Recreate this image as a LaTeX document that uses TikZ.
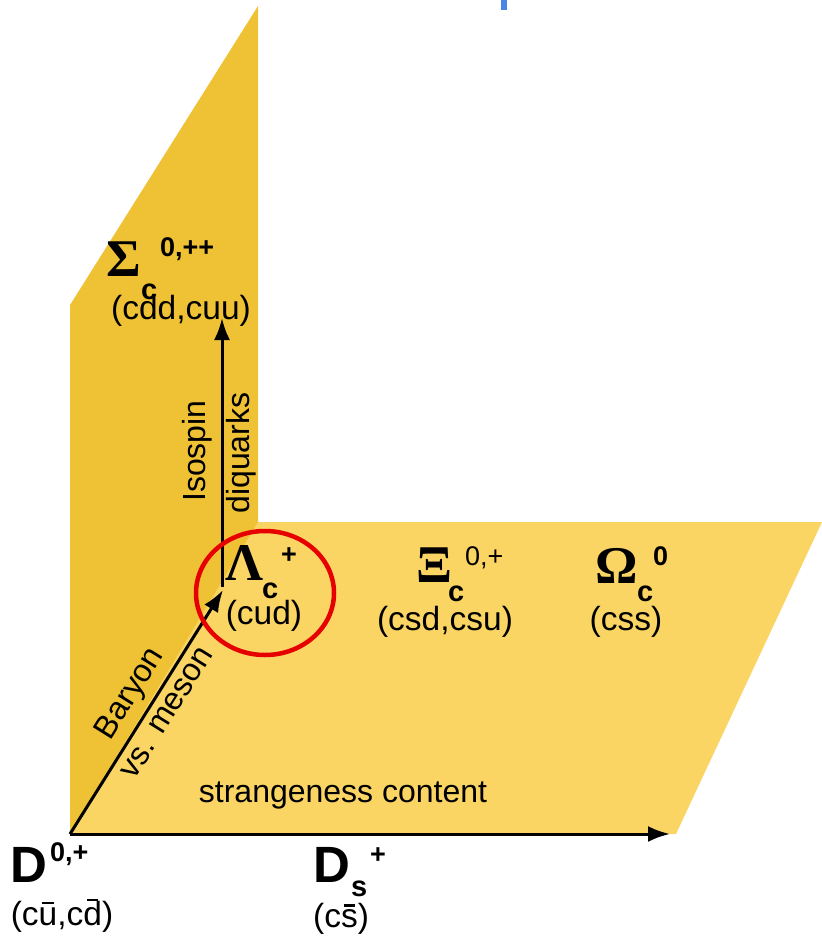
\documentclass[tikz,border=0pt]{standalone}
\usepackage{fontspec}
\setmainfont{Liberation Sans}
\newfontfamily\grkfont{Liberation Serif}
\usetikzlibrary{arrows.meta}
\definecolor{darkplane}{RGB}{239,193,52}
\definecolor{lightplane}{RGB}{250,213,100}
\definecolor{ringred}{RGB}{230,0,0}
\definecolor{barblue}{RGB}{74,134,232}
\newcommand\qbar[2]{\setbox0\hbox{#2}\rlap{\hbox to\wd0{\hss\rule[#1]{0.62\wd0}{0.075em}\hss}}\box0}
\begin{document}
\begin{tikzpicture}[x=1pt,y=-1pt,
  axis/.style={line width=3pt,-{Latex[length=22pt,width=16pt]}},
  greek/.style={font=\grkfont\bfseries\fontsize{53}{53}\selectfont, inner sep=0pt, anchor=base west},
  bigD/.style={font=\bfseries\fontsize{51}{51}\selectfont, inner sep=0pt, anchor=base west},
  subc/.style={font=\bfseries\fontsize{29}{29}\selectfont, inner sep=0pt, anchor=base west},
  supb/.style={font=\bfseries\fontsize{27}{27}\selectfont, inner sep=0pt, anchor=base west},
  supr/.style={font=\fontsize{27}{27}\selectfont, inner sep=0pt, anchor=base west},
  quark/.style={font=\fontsize{33.5}{33.5}\selectfont, inner sep=0pt, anchor=base},
  axlabel/.style={font=\fontsize{32}{32}\selectfont, inner sep=0pt},
]
\useasboundingbox (0,0) rectangle (822,938);
% top blue mark
\fill[barblue] (501,0) rectangle (507,10);
% planes
\fill[darkplane] (70,834) -- (70,305) -- (258,6) -- (258,834) -- cycle;
\fill[lightplane] (70,834) -- (258,522) -- (822,522) -- (676,834) -- cycle;

% Sigma_c
\node[greek] (sig) at (106,276) {Σ};
\node[subc] (sigc) at (141,299) {c};
\node[supb] (sigsup) at (160,256) {0,++};
\node[quark] (sigq) at (181,319) {(cdd,cuu)};

% Lambda_c
\node[greek] (lam) at (225,580) {Λ};
\node[subc] (lamc) at (262,598) {c};
\node[supb] (lamsup) at (281,563) {+};
\node[quark] (lamq) at (264,624) {(cud)};

% Xi_c
\node[greek] (xi) at (416,582) {Ξ};
\node[subc] (xic) at (448,601) {c};
\node[supr] (xisup) at (465,565) {0,+};
\node[quark] (xiq) at (445,630) {(csd,csu)};

% Omega_c
\node[greek] (om) at (595,583) {Ω};
\node[subc] (omc) at (637,601) {c};
\node[supb] (omsup) at (653,565) {0};
\node[quark] (omq) at (626,630) {(css)};

% D mesons
\node[bigD] (d0) at (10,882) {D};
\node[supb] (d0sup) at (50,861) {0,+};
\node[quark] (d0q) at (62,925) {(c\qbar{0.62em}{u},c\qbar{0.71em}{d})};

\node[bigD] (ds) at (313,882) {D};
\node[subc] (dss) at (351,896) {s};
\node[supb] (dssup) at (370,863) {+};
\node[quark] (dsq) at (341,927) {(c\qbar{0.6em}{s})};

% axes
\coordinate (O) at (70,834);
\coordinate (Lt) at (223,590);
\coordinate (Lb) at (222,587);
\coordinate (St) at (222,318);
\coordinate (Se) at (670,834);
\draw[axis] (O) -- (Se);
\draw[axis] (O) -- (Lt);
\draw[axis] (Lb) -- (St);

% axis labels
\node[axlabel, rotate=90] (iso) at (197,451) {Isospin};
\node[axlabel, rotate=90] (diq) at (241,453) {diquarks};
\node[axlabel, rotate=58] (bar) at (131,694) {Baryon};
\node[axlabel, rotate=58] (vsm) at (167,713) {vs. meson};
\node[axlabel] (strange) at (343,795) {strangeness content};

% highlight ring
\draw[ringred, line width=4.5pt] (265,593) ellipse [x radius=69, y radius=62];
\end{tikzpicture}
\end{document}
